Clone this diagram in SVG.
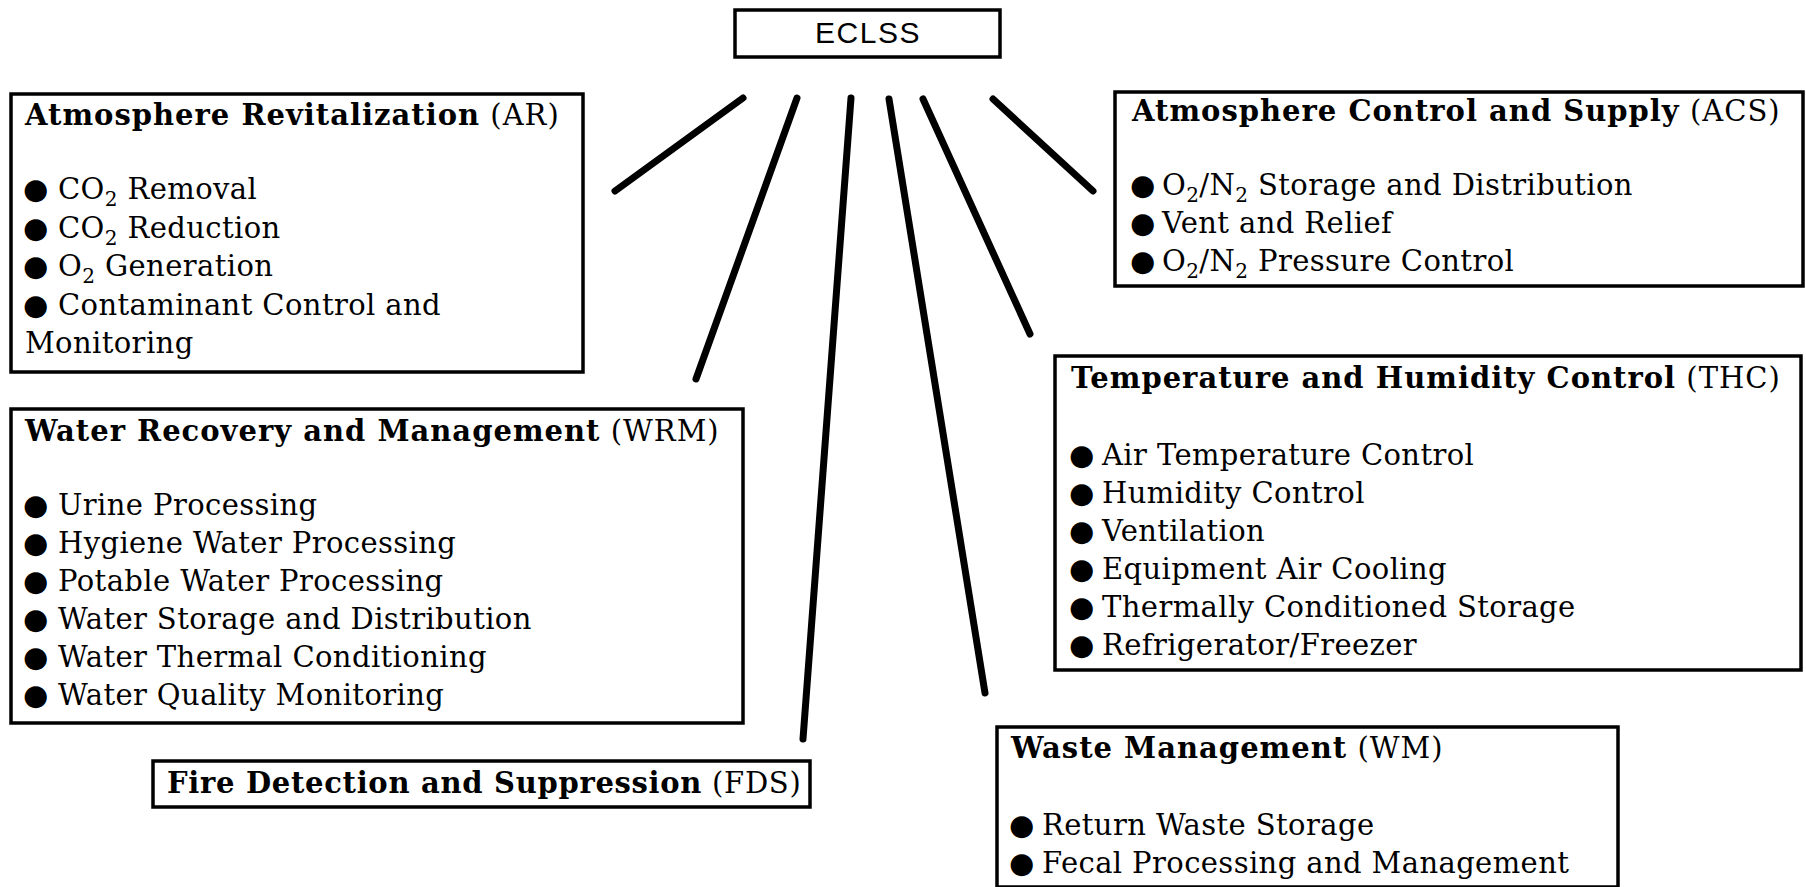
<svg xmlns="http://www.w3.org/2000/svg" width="1806" height="887" viewBox="0 0 1806 887">
<style>
.box{fill:#fff;stroke:#000;stroke-width:3.5}
.t{font-family:"DejaVu Serif","Liberation Serif",serif;font-size:29px;letter-spacing:1px;fill:#000}
.i{font-family:"DejaVu Serif","Liberation Serif",serif;font-size:29px;letter-spacing:0.4px;fill:#000}
.b{font-weight:bold}
.bul{font-family:"DejaVu Sans",sans-serif;font-size:29px;letter-spacing:0}
.sub{font-size:20px}
.sans{font-family:"Liberation Sans",Arial,sans-serif;font-size:30px;letter-spacing:1.5px;fill:#000}
.conn line{stroke:#000;stroke-width:7;stroke-linecap:round}
</style>
<rect width="1806" height="887" fill="#fff"/>
<g class="conn" id="connectors">
<line x1="743" y1="98" x2="615" y2="191"/>
<line x1="797" y1="98" x2="696" y2="379"/>
<line x1="851" y1="98" x2="803" y2="739"/>
<line x1="889" y1="99" x2="985" y2="693"/>
<line x1="923" y1="99" x2="1030" y2="334"/>
<line x1="993" y1="99" x2="1093" y2="191"/>
</g>
<g id="eclss">
<rect class="box" x="735" y="10" width="265" height="47"/>
<text class="sans" x="868" y="43" text-anchor="middle">ECLSS</text>
</g>
<g id="ar">
<rect class="box" x="11" y="94" width="572" height="278"/>
<text class="t" x="25" y="125"><tspan class="b">Atmosphere Revitalization</tspan> (AR)</text>
<text class="i" y="199"><tspan class="bul" x="23">●</tspan><tspan x="58">CO</tspan><tspan class="sub" dy="7">2</tspan><tspan dy="-7"> Removal</tspan></text>
<text class="i" y="238"><tspan class="bul" x="23">●</tspan><tspan x="58">CO</tspan><tspan class="sub" dy="7">2</tspan><tspan dy="-7"> Reduction</tspan></text>
<text class="i" y="276"><tspan class="bul" x="23">●</tspan><tspan x="58">O</tspan><tspan class="sub" dy="7">2</tspan><tspan dy="-7"> Generation</tspan></text>
<text class="i" y="315"><tspan class="bul" x="23">●</tspan><tspan x="58">Contaminant Control and</tspan></text>
<text class="i" x="25" y="353">Monitoring</text>
</g>
<g id="wrm">
<rect class="box" x="11" y="409" width="732" height="314"/>
<text class="t" x="25" y="441"><tspan class="b">Water Recovery and Management</tspan> (WRM)</text>
<text class="i" y="515"><tspan class="bul" x="23">●</tspan><tspan x="58">Urine Processing</tspan></text>
<text class="i" y="553"><tspan class="bul" x="23">●</tspan><tspan x="58">Hygiene Water Processing</tspan></text>
<text class="i" y="591"><tspan class="bul" x="23">●</tspan><tspan x="58">Potable Water Processing</tspan></text>
<text class="i" y="629"><tspan class="bul" x="23">●</tspan><tspan x="58">Water Storage and Distribution</tspan></text>
<text class="i" y="667"><tspan class="bul" x="23">●</tspan><tspan x="58">Water Thermal Conditioning</tspan></text>
<text class="i" y="705"><tspan class="bul" x="23">●</tspan><tspan x="58">Water Quality Monitoring</tspan></text>
</g>
<g id="fds">
<rect class="box" x="153" y="761" width="657" height="46"/>
<text class="t" x="167" y="793" style="letter-spacing:0.7px"><tspan class="b">Fire Detection and Suppression</tspan> (FDS)</text>
</g>
<g id="acs">
<rect class="box" x="1115" y="92" width="688" height="194"/>
<text class="t" x="1132" y="121"><tspan class="b">Atmosphere Control and Supply</tspan> (ACS)</text>
<text class="i" y="195"><tspan class="bul" x="1130">●</tspan><tspan x="1162">O</tspan><tspan class="sub" dy="7">2</tspan><tspan dy="-7">/N</tspan><tspan class="sub" dy="7">2</tspan><tspan dy="-7"> Storage and Distribution</tspan></text>
<text class="i" y="233"><tspan class="bul" x="1130">●</tspan><tspan x="1162">Vent and Relief</tspan></text>
<text class="i" y="271"><tspan class="bul" x="1130">●</tspan><tspan x="1162">O</tspan><tspan class="sub" dy="7">2</tspan><tspan dy="-7">/N</tspan><tspan class="sub" dy="7">2</tspan><tspan dy="-7"> Pressure Control</tspan></text>
</g>
<g id="thc">
<rect class="box" x="1055" y="356" width="746" height="314"/>
<text class="t" x="1071" y="388"><tspan class="b">Temperature and Humidity Control</tspan> (THC)</text>
<text class="i" y="465"><tspan class="bul" x="1069">●</tspan><tspan x="1102">Air Temperature Control</tspan></text>
<text class="i" y="503"><tspan class="bul" x="1069">●</tspan><tspan x="1102">Humidity Control</tspan></text>
<text class="i" y="541"><tspan class="bul" x="1069">●</tspan><tspan x="1102">Ventilation</tspan></text>
<text class="i" y="579"><tspan class="bul" x="1069">●</tspan><tspan x="1102">Equipment Air Cooling</tspan></text>
<text class="i" y="617"><tspan class="bul" x="1069">●</tspan><tspan x="1102">Thermally Conditioned Storage</tspan></text>
<text class="i" y="655"><tspan class="bul" x="1069">●</tspan><tspan x="1102">Refrigerator/Freezer</tspan></text>
</g>
<g id="wm">
<rect class="box" x="997" y="727" width="621" height="160"/>
<text class="t" x="1011" y="758"><tspan class="b">Waste Management</tspan> (WM)</text>
<text class="i" y="835"><tspan class="bul" x="1009">●</tspan><tspan x="1042">Return Waste Storage</tspan></text>
<text class="i" y="873"><tspan class="bul" x="1009">●</tspan><tspan x="1042">Fecal Processing and Management</tspan></text>
</g>
</svg>
